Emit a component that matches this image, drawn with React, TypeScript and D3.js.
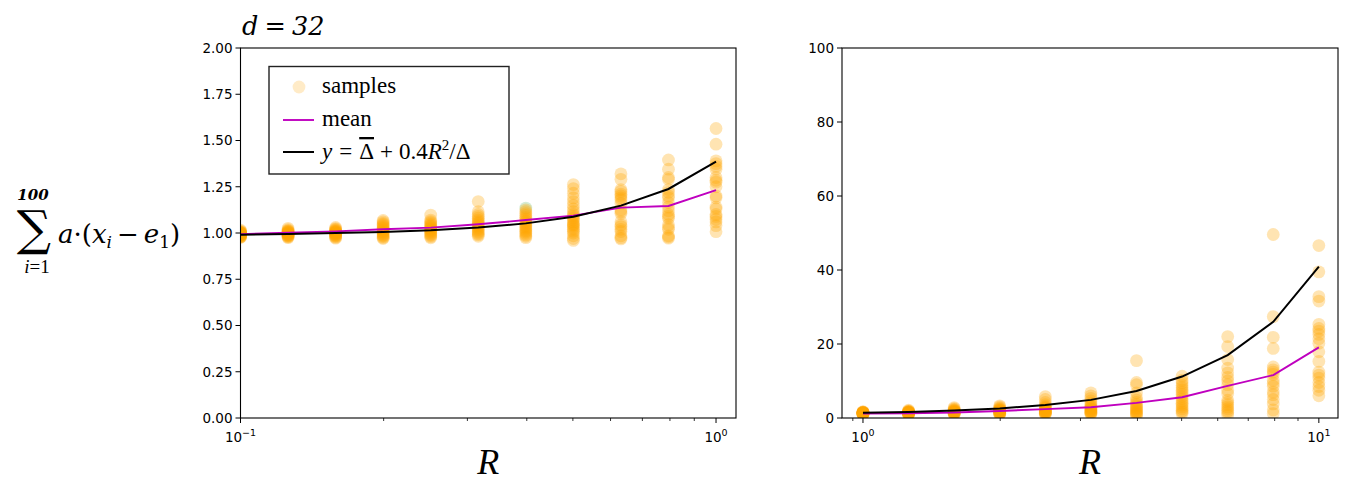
import React from "react";
import * as d3 from "d3";

const leftR = [0.1, 0.1259, 0.1585, 0.1995, 0.2512, 0.3162, 0.3981, 0.5012, 0.631, 0.7943, 1.0];
const rightR = [1, 1.259, 1.585, 1.995, 2.512, 3.162, 3.981, 5.012, 6.31, 7.943, 10];

const leftSamples = [
  [1.015, 1.01, 1.006, 1.004, 1.002, 1.0, 1.0, 0.998, 0.996, 0.995, 0.993, 0.991, 0.99, 0.988, 0.986, 0.984, 0.982, 0.98, 0.978, 0.976],
  [1.025, 1.018, 1.013, 1.01, 1.007, 1.005, 1.003, 1.001, 0.999, 0.997, 0.995, 0.993, 0.991, 0.989, 0.986, 0.984, 0.981, 0.978, 0.975],
  [1.03, 1.024, 1.019, 1.015, 1.012, 1.009, 1.006, 1.004, 1.002, 1.0, 0.998, 0.996, 0.993, 0.99, 0.987, 0.984, 0.98, 0.976, 0.972],
  [1.068, 1.06, 1.052, 1.046, 1.04, 1.034, 1.028, 1.022, 1.016, 1.01, 1.005, 1.0, 0.995, 0.99, 0.985, 0.98, 0.975, 0.97],
  [1.097, 1.07, 1.062, 1.055, 1.048, 1.042, 1.036, 1.03, 1.025, 1.02, 1.015, 1.01, 1.004, 0.998, 0.992, 0.986, 0.98, 0.974],
  [1.17, 1.115, 1.1, 1.09, 1.08, 1.07, 1.062, 1.055, 1.048, 1.04, 1.032, 1.025, 1.018, 1.01, 1.003, 0.996, 0.99, 0.982],
  [1.125, 1.115, 1.105, 1.095, 1.085, 1.075, 1.065, 1.058, 1.05, 1.042, 1.035, 1.028, 1.02, 1.012, 1.005, 0.998, 0.99, 0.982, 0.975],
  [1.262, 1.24, 1.215, 1.19, 1.17, 1.15, 1.13, 1.115, 1.1, 1.09, 1.08, 1.07, 1.06, 1.05, 1.045, 1.04, 1.03, 1.02, 1.01, 1.0, 0.985, 0.97, 0.96],
  [1.32, 1.29, 1.235, 1.225, 1.21, 1.2, 1.19, 1.18, 1.16, 1.125, 1.115, 1.105, 1.06, 1.045, 1.035, 1.02, 1.008, 0.985, 0.975, 0.968],
  [1.395, 1.345, 1.3, 1.29, 1.235, 1.22, 1.2, 1.19, 1.165, 1.14, 1.12, 1.1, 1.09, 1.08, 1.045, 1.03, 1.02, 0.985, 0.978, 0.972],
  [1.565, 1.48, 1.39, 1.375, 1.36, 1.345, 1.3, 1.285, 1.275, 1.25, 1.2, 1.19, 1.14, 1.13, 1.1, 1.09, 1.075, 1.06, 1.04, 1.007],
];
const leftGreen = [1.135];
const leftGreenR = [0.3981];
const leftMean = [0.993, 1.002, 1.009, 1.02, 1.029, 1.047, 1.07, 1.094, 1.137, 1.146, 1.232];
const leftFit = [0.99, 0.995, 1.0, 1.006, 1.015, 1.03, 1.052, 1.088, 1.148, 1.238, 1.386];

const rightSamples = [
  [1.7, 1.6, 1.55, 1.5, 1.45, 1.42, 1.4, 1.38, 1.35, 1.32, 1.3, 1.28, 1.25, 1.22, 1.2, 1.15, 1.1, 1.05, 1.0, 0.95],
  [2.1, 1.9, 1.8, 1.7, 1.65, 1.6, 1.55, 1.5, 1.45, 1.4, 1.35, 1.3, 1.25, 1.2, 1.15, 1.1, 1.0, 0.9],
  [2.8, 2.5, 2.3, 2.1, 2.0, 1.9, 1.8, 1.7, 1.6, 1.55, 1.5, 1.4, 1.35, 1.3, 1.2, 1.1, 1.0],
  [3.3, 3.0, 2.7, 2.5, 2.3, 2.2, 2.1, 2.0, 1.9, 1.8, 1.7, 1.6, 1.5, 1.4, 1.3, 1.2, 1.1, 1.0],
  [5.8, 5.0, 4.2, 3.6, 3.2, 2.9, 2.7, 2.5, 2.3, 2.1, 1.9, 1.8, 1.7, 1.6, 1.5, 1.4, 1.3, 1.2, 1.0],
  [6.8, 6.0, 5.3, 4.6, 4.0, 3.6, 3.2, 2.9, 2.6, 2.4, 2.2, 2.0, 1.8, 1.6, 1.5, 1.4, 1.2, 1.0],
  [15.5, 9.6, 9.0, 6.8, 5.5, 4.8, 4.2, 3.7, 3.3, 2.9, 2.6, 2.3, 2.0, 1.7, 1.4, 1.2, 0.9, 0.6],
  [11.3, 10.2, 9.5, 8.8, 8.2, 7.6, 7.0, 6.4, 5.8, 5.2, 4.6, 4.0, 3.5, 3.0, 2.5, 2.0, 1.6, 1.2],
  [22.0, 19.3, 15.8, 13.5, 12.2, 11.0, 10.0, 9.0, 7.5, 6.6, 4.8, 4.2, 3.6, 3.0, 2.5, 2.0, 1.5, 0.8],
  [49.6, 27.4, 21.8, 18.8, 13.8, 13.0, 12.4, 11.8, 10.2, 9.4, 8.6, 7.0, 6.3, 5.0, 3.8, 2.2, 1.2],
  [46.6, 39.5, 32.8, 31.6, 25.3, 24.2, 23.5, 22.6, 21.4, 20.2, 17.9, 15.3, 12.4, 11.6, 10.8, 9.6, 8.5, 7.5, 6.0],
];
const rightMean = [1.2, 1.3, 1.5, 1.9, 2.4, 2.9, 4.1, 5.6, 8.7, 11.6, 19.1];
const rightFit = [1.4, 1.65, 2.0, 2.6, 3.5, 4.9, 7.3, 11.2, 17.0, 26.0, 40.9];

const leftYTicks = [0, 0.25, 0.5, 0.75, 1.0, 1.25, 1.5, 1.75, 2.0];
const rightYTicks = [0, 20, 40, 60, 80, 100];
const leftXMajor = [{ v: 0.1, exp: "\u22121" }, { v: 1, exp: "0" }];
const rightXMajor = [{ v: 1, exp: "0" }, { v: 10, exp: "1" }];
const leftXMinor = [0.2, 0.3, 0.4, 0.5, 0.6, 0.7, 0.8, 0.9];
const rightXMinor = [0.95, 2, 3, 4, 5, 6, 7, 8, 9];

const ORANGE = "#FFA500";
const MAG = "#BF00BF";
const TICKFONT = "DejaVu Sans";
const SERIF = "Liberation Serif";

type PanelProps = {
  id: string;
  x0: number; x1: number; y0: number; y1: number;
  xDomain: [number, number]; yDomain: [number, number];
  R: number[]; samples: number[][]; mean: number[]; fit: number[];
  yTicks: number[]; yFmt: (v: number) => string;
  xMajor: { v: number; exp: string }[]; xMinor: number[];
  green?: { r: number[]; v: number[] };
};

function Panel(p: PanelProps) {
  const x = d3.scaleLog().domain(p.xDomain).range([p.x0, p.x1]);
  const y = d3.scaleLinear().domain(p.yDomain).range([p.y1, p.y0]);
  const line = d3.line<number>().x((_, i) => x(p.R[i])).y((d) => y(d));
  const minor = p.xMinor.filter((v) => x(v) >= p.x0 && x(v) <= p.x1);
  return (
    <g>
      <defs>
        <clipPath id={p.id}>
          <rect x={p.x0} y={p.y0} width={p.x1 - p.x0} height={p.y1 - p.y0} />
        </clipPath>
      </defs>
      <g clipPath={`url(#${p.id})`}>
        {p.green &&
          p.green.v.map((v, i) => (
            <circle key={"g" + i} cx={x(p.green!.r[i])} cy={y(v)} r={6.4} fill="#2ca02c" fillOpacity={0.2} />
          ))}
        {p.samples.map((col, i) =>
          col.map((v, j) => (
            <circle key={i + "-" + j} cx={x(p.R[i])} cy={y(v)} r={6.4} fill={ORANGE} fillOpacity={0.3} />
          ))
        )}
        <path d={line(p.mean) || ""} fill="none" stroke={MAG} strokeWidth={1.9} />
        <path d={line(p.fit) || ""} fill="none" stroke="#000" strokeWidth={2} />
      </g>
      <rect x={p.x0} y={p.y0} width={p.x1 - p.x0} height={p.y1 - p.y0} fill="none" stroke="#000" strokeWidth={1.1} />
      {p.yTicks.map((t) => (
        <g key={"y" + t}>
          <line x1={p.x0 - 5} x2={p.x0} y1={y(t)} y2={y(t)} stroke="#000" strokeWidth={1} />
          <text x={p.x0 - 8} y={y(t)} dy="0.36em" textAnchor="end" fontFamily={TICKFONT} fontSize={13.5} fill="#000">
            {p.yFmt(t)}
          </text>
        </g>
      ))}
      {p.xMajor.map((t) => (
        <g key={"x" + t.v}>
          <line x1={x(t.v)} x2={x(t.v)} y1={p.y1} y2={p.y1 + 5} stroke="#000" strokeWidth={1} />
          <text x={x(t.v)} y={p.y1 + 24} textAnchor="middle" fontFamily={TICKFONT} fontSize={13.5} fill="#000">
            10<tspan dy={-6} fontSize={9.5}>{t.exp}</tspan>
          </text>
        </g>
      ))}
      {minor.map((t) => (
        <line key={"m" + t} x1={x(t)} x2={x(t)} y1={p.y1} y2={p.y1 + 3} stroke="#000" strokeWidth={0.8} />
      ))}
      <text x={(p.x0 + p.x1) / 2} y={p.y1 + 56} textAnchor="middle" fontFamily={SERIF} fontStyle="italic" fontSize={36} fill="#000">
        R
      </text>
    </g>
  );
}

export default function App() {
  return (
    <svg width={1360} height={491} style={{ position: "absolute", left: 0, top: 0, background: "#fff" }}>
      <rect x={0} y={0} width={1360} height={491} fill="#fff" />
      <Panel
        id="clipL"
        x0={240.5} x1={736} y0={48} y1={418}
        xDomain={[0.1, Math.pow(10, 0.042)]}
        yDomain={[0, 2]}
        R={leftR} samples={leftSamples} mean={leftMean} fit={leftFit}
        yTicks={leftYTicks} yFmt={(v) => v.toFixed(2)}
        xMajor={leftXMajor} xMinor={leftXMinor}
        green={{ r: leftGreenR, v: leftGreen }}
      />
      <Panel
        id="clipR"
        x0={842} x1={1338} y0={48} y1={418}
        xDomain={[Math.pow(10, -0.046), Math.pow(10, 1.042)]}
        yDomain={[0, 100]}
        R={rightR} samples={rightSamples} mean={rightMean} fit={rightFit}
        yTicks={rightYTicks} yFmt={(v) => String(v)}
        xMajor={rightXMajor} xMinor={rightXMinor}
      />
      {/* title */}
      <text x={242} y={35} fontFamily="DejaVu Serif" fontStyle="italic" fontSize={25.5} fill="#000">
        d<tspan dx={-2}> = </tspan><tspan dx={-2}>32</tspan>
      </text>
      {/* legend */}
      <rect x={269} y={66.5} width={240} height={107.5} fill="#fff" fillOpacity={0.85} stroke="#222" strokeWidth={1.4} />
      <circle cx={299} cy={87} r={6.4} fill={ORANGE} fillOpacity={0.22} />
      <text x={322} y={93} fontFamily={SERIF} fontSize={23} fill="#000">samples</text>
      <line x1={283} x2={314} y1={120} y2={120} stroke={MAG} strokeWidth={1.9} />
      <text x={322} y={126} fontFamily={SERIF} fontSize={23} fill="#000">mean</text>
      <line x1={283} x2={314} y1={152} y2={152} stroke="#000" strokeWidth={2} />
      <text x={322} y={159} fontFamily={SERIF} fontSize={23} fill="#000">
        <tspan fontStyle="italic">y</tspan>
        <tspan dx={7}>=</tspan>
        <tspan dx={7} style={{ textDecoration: "overline" }}>Δ</tspan>
        <tspan dx={6}>+</tspan>
        <tspan dx={6}>0.4</tspan>
        <tspan fontStyle="italic">R</tspan>
        <tspan dy={-9} fontSize={15}>2</tspan>
        <tspan dy={9}>/Δ</tspan>
      </text>
      {/* y label */}
      <text x={33} y={200} textAnchor="middle" fontFamily="DejaVu Serif" fontStyle="italic" fontWeight="bold" fontSize={15} fill="#000">
        100
      </text>
      <text x={34} y={245} textAnchor="middle" fontFamily="DejaVu Serif" fontSize={48} fill="#000">
        ∑
      </text>
      <text x={37} y={273} textAnchor="middle" fontFamily={SERIF} fontSize={19} fill="#000">
        <tspan fontStyle="italic">i</tspan>=1
      </text>
      <text x={58} y={243} fontFamily="DejaVu Serif" fontSize={26} fill="#000">
        <tspan fontStyle="italic">a</tspan>
        <tspan>·(</tspan>
        <tspan fontStyle="italic">x</tspan>
        <tspan dy={5} fontSize={17} fontStyle="italic">i</tspan>
        <tspan dy={-5} dx={5}>−</tspan>
        <tspan dx={5} fontStyle="italic">e</tspan>
        <tspan dy={5} fontSize={17}>1</tspan>
        <tspan dy={-5}>)</tspan>
      </text>
    </svg>
  );
}
